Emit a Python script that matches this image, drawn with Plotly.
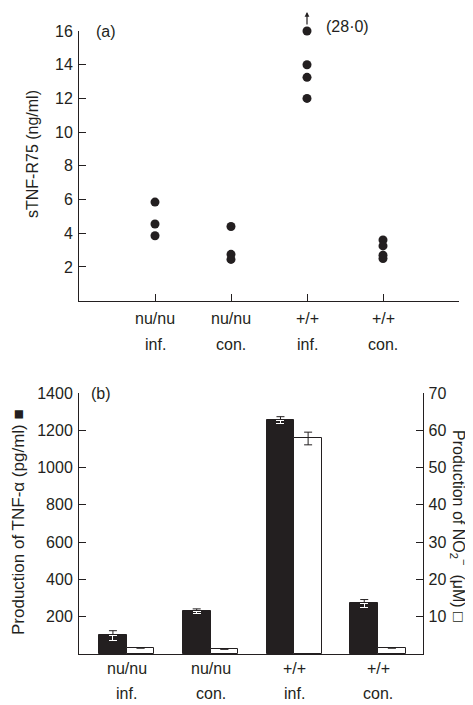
import plotly.graph_objects as go

# ---------------- data ----------------
groups_line1 = ["nu/nu", "nu/nu", "+/+", "+/+"]
groups_line2 = ["inf.", "con.", "inf.", "con."]

# panel (a): sTNF-R75 (ng/ml), individual animals
a_nunu_inf = [5.85, 4.55, 3.85]
a_nunu_con = [4.4, 2.75, 2.45]
a_wt_inf = [28.0, 14.0, 13.25, 12.0]
a_wt_con = [3.6, 3.25, 2.7, 2.5]
a_ymax = 16

# panel (b): TNF-alpha (pg/ml) and NO2- (uM), mean +/- error
tnf_mean = [100, 230, 1255, 272]
tnf_err = [25, 12, 18, 20]
no2_mean = [1.6, 1.3, 57.8, 1.6]
no2_err = [0, 0, 1.7, 0]

W, H = 473, 705
OFF = 8  # page body margin
FONT = "Liberation Sans, Arial, Helvetica, sans-serif"
INK = "#231f20"
FS = 16

fig = go.Figure()

# ---------- panel (a) scatter ----------
a_sets = [a_nunu_inf, a_nunu_con, a_wt_inf, a_wt_con]
xs, ys = [], []
for i, vals in enumerate(a_sets, start=1):
    for v in vals:
        xs.append(i)
        ys.append(min(v, a_ymax))
fig.add_trace(go.Scatter(x=xs, y=ys, mode="markers", xaxis="x", yaxis="y",
                         marker=dict(size=9, color=INK), cliponaxis=False,
                         showlegend=False, hoverinfo="skip"))

# ---------- panel (b) bars ----------
cats = [1, 2, 3, 4]
bw = 0.33
fig.add_trace(go.Bar(x=cats, y=tnf_mean, xaxis="x2", yaxis="y2",
                     width=bw, offset=-bw,
                     marker=dict(color=INK, line=dict(color=INK, width=1)),
                     error_y=dict(type="data", array=tnf_err, color=INK,
                                  thickness=1, width=4),
                     showlegend=False, hoverinfo="skip"))
# white portion of error bar inside black bars
fig.add_trace(go.Bar(x=cats, y=tnf_mean, xaxis="x2", yaxis="y2",
                     width=bw, offset=-bw,
                     marker=dict(color="rgba(0,0,0,0)", line=dict(width=0)),
                     error_y=dict(type="data", symmetric=False,
                                  array=[0] * 4, arrayminus=tnf_err,
                                  color="white", thickness=1, width=4),
                     showlegend=False, hoverinfo="skip"))
fig.add_trace(go.Bar(x=cats, y=no2_mean, xaxis="x2", yaxis="y3",
                     width=bw, offset=0,
                     marker=dict(color="white", line=dict(color=INK, width=1)),
                     error_y=dict(type="data", array=no2_err, color=INK,
                                  thickness=1, width=4),
                     showlegend=False, hoverinfo="skip"))

# ---------- axes ----------
def px_x(p):
    return (p - OFF) / W

def px_y(p):
    return 1 - (p - OFF) / H

axis_common = dict(showgrid=False, zeroline=False, showline=True,
                   linecolor=INK, linewidth=1, ticks="inside", ticklen=7,
                   tickcolor=INK, tickwidth=1, automargin=False,
                   tickfont=dict(family=FONT, size=FS, color=INK))

fig.update_layout(
    template="none",
    width=W, height=H, margin=dict(l=0, r=0, t=0, b=0, pad=0),
    paper_bgcolor="white", plot_bgcolor="white",
    font=dict(family=FONT, size=FS, color=INK),
    xaxis=dict(**axis_common, domain=[px_x(79), px_x(459)], range=[0, 5],
               tickvals=[1, 2, 3, 4, 5], showticklabels=False, anchor="y"),
    yaxis=dict(**axis_common, domain=[px_y(300.7), px_y(31)], range=[0, a_ymax],
               tickvals=list(range(2, 17, 2)), anchor="x",
               ticklabelstandoff=2),
    xaxis2=dict(showgrid=False, zeroline=False, showline=True, linecolor=INK,
                linewidth=1, ticks="", showticklabels=False, automargin=False,
                domain=[px_x(79), px_x(423.3)], range=[0.43, 4.54],
                anchor="y2"),
    yaxis2=dict(**axis_common, domain=[px_y(654), px_y(393)], range=[0, 1400],
                tickvals=list(range(200, 1401, 200)), anchor="x2",
                ticklabelstandoff=2),
    yaxis3=dict(**axis_common, range=[0, 70], tickvals=list(range(10, 71, 10)),
                overlaying="y2", side="right", anchor="x2",
                ticklabelstandoff=1),
    bargap=0,
)

ann = []
def label(x, y, text, xref="paper", xanchor="center", angle=0, size=FS):
    ann.append(dict(x=x, y=y, xref=xref, yref="paper", text=text,
                    showarrow=False, xanchor=xanchor, yanchor="middle",
                    textangle=angle, font=dict(size=size)))

# category labels, two lines
for i, (l1, l2) in enumerate(zip(groups_line1, groups_line2), start=1):
    label(i, px_y(318), l1, xref="x")
    label(i, px_y(344), l2, xref="x")
    label(i, px_y(668), l1, xref="x2")
    label(i, px_y(693), l2, xref="x2")

# panel letters
label(px_x(94), px_y(31), "(a)", xanchor="left")
label(px_x(89), px_y(393), "(b)", xanchor="left")

# axis titles
label(px_x(33), px_y(154), "sTNF-R75 (ng/ml)", angle=-90)
label(px_x(18), px_y(522), "Production of TNF-\u03b1 (pg/ml) \u25a0", angle=-90,
      size=17)
label(px_x(459), px_y(526),
      "Production of NO<sub>2</sub><sup>\u2212</sup>  (\u03bcM) \u25a1", angle=90,
      size=16)

# off-scale value marker (arrow + value)
off_val = a_wt_inf[0]
ann.append(dict(x=3, y=a_ymax, xref="x", yref="y", yshift=19, ax=0, ay=15,
                text="\u200a", font=dict(size=2), showarrow=True, standoff=0,
                arrowhead=2, arrowsize=0.8, arrowwidth=1.2, arrowcolor=INK))
ann.append(dict(x=3, y=a_ymax, xref="x", yref="y", xshift=17, yshift=5,
                text="(" + f"{off_val:.1f}".replace(".", "\u00b7") + ")",
                showarrow=False, xanchor="left", yanchor="middle",
                font=dict(size=FS)))

fig.update_layout(annotations=ann)

fig.write_html("out.html")
